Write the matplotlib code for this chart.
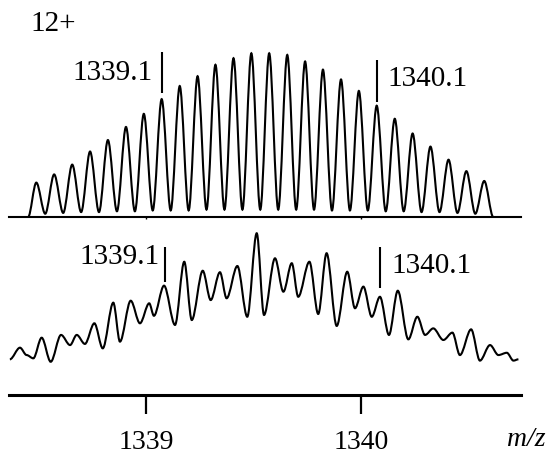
import matplotlib
matplotlib.use("Agg")
import matplotlib.pyplot as plt
from matplotlib.path import Path
from matplotlib.patches import PathPatch

plt.rcParams["font.family"] = ["Liberation Serif", "DejaVu Serif"]

# ─── DATA ────────────────────────────────────────────────
# simulated 12+ isotope pattern: peak centres (m/z) and relative heights (%)
top_mz = [1338.490, 1338.573, 1338.657, 1338.740, 1338.823, 1338.907, 1338.990,
          1339.073, 1339.157, 1339.240, 1339.323, 1339.407, 1339.490, 1339.573,
          1339.657, 1339.740, 1339.823, 1339.907, 1339.990, 1340.073, 1340.157,
          1340.240, 1340.323, 1340.407, 1340.490, 1340.573]
top_int = [21, 26, 32, 40, 47, 55, 63, 72, 80, 86, 93, 97, 100,
           100, 99, 95, 90, 84, 77, 68, 60, 51, 43, 35, 28, 22]
top_valley = [2, 2.5, 3, 3, 3.5, 3.5, 4, 4, 4, 4.5, 4.5, 4.5, 4.5,
              4.5, 4.5, 4.5, 4, 4, 4, 3.5, 3.5, 3, 3, 2.5, 2]
top_start, top_end = 1338.452, 1340.615

# measured spectrum: successive maxima / minima (m/z, relative intensity %)
exp_mz = [1338.367, 1338.414, 1338.445, 1338.476, 1338.515, 1338.557, 1338.605,
          1338.647, 1338.678, 1338.716, 1338.760, 1338.799, 1338.848, 1338.879,
          1338.929, 1338.972, 1339.015, 1339.037, 1339.084, 1339.135, 1339.178,
          1339.213, 1339.264, 1339.301, 1339.344, 1339.375, 1339.425, 1339.471,
          1339.515, 1339.549, 1339.600, 1339.639, 1339.678, 1339.708, 1339.760,
          1339.801, 1339.840, 1339.887, 1339.936, 1339.972, 1340.011, 1340.050,
          1340.088, 1340.130, 1340.171, 1340.220, 1340.262, 1340.298, 1340.336,
          1340.383, 1340.425, 1340.460, 1340.512, 1340.553, 1340.600, 1340.639,
          1340.678, 1340.709, 1340.732]
exp_int = [21.8, 28.9, 24.4, 22.4, 35.0, 20.3, 36.7, 30.5, 36.7, 31.2, 43.8,
           28.5, 56.4, 32.6, 57.6, 43.8, 56.0, 48.4, 66.8, 42.8, 81.4, 45.8,
           75.9, 58.0, 75.0, 59.1, 78.8, 47.8, 98.8, 48.9, 83.5, 63.1, 80.5,
           60.0, 81.4, 49.5, 86.6, 42.2, 75.3, 53.0, 66.2, 47.8, 60.0, 36.7,
           63.7, 34.0, 47.8, 36.7, 40.7, 33.6, 38.1, 24.4, 40.1, 21.0, 30.5,
           24.4, 25.8, 21.0, 21.8]

tick_vals = [1339, 1340]
tick_labels = ["1339", "1340"]
mark_labels = ["1339.1", "1340.1"]
top_marks = [1339.073, 1340.073]
exp_marks = [1339.088, 1340.088]

XLIM = (1338.363, 1340.744)
SCALE = 1.637  # px per % intensity


def smooth_path(xs, ys):
    # cubic segments with flat tangents at every extremum
    verts = [(xs[0], ys[0])]
    codes = [Path.MOVETO]
    for i in range(len(xs) - 1):
        dx = xs[i + 1] - xs[i]
        verts += [(xs[i] + dx / 3, ys[i]), (xs[i + 1] - dx / 3, ys[i + 1]),
                  (xs[i + 1], ys[i + 1])]
        codes += [Path.CURVE4] * 3
    return Path(verts, codes)


W, H = 551, 457
fig = plt.figure(figsize=(W / 100, H / 100), dpi=100)

# top axes: baseline at y=217 px, bottom axes: baseline at y=395 px
ax1 = fig.add_axes([9 / W, (H - 217) / H, 512 / W, 217 / H])
ax2 = fig.add_axes([9 / W, (H - 395) / H, 512 / W, 170 / H])
ax1.set_ylim(0, 217 / SCALE)
ax2.set_ylim(0, 170 / SCALE)

for ax in (ax1, ax2):
    ax.set_xlim(*XLIM)
    ax.patch.set_alpha(0)
    for s in ("top", "left", "right"):
        ax.spines[s].set_visible(False)
    ax.set_yticks([])
    ax.set_xticks(tick_vals)
    ax.set_xticklabels(tick_labels)

# top trace
xs, ys = [top_start], [0]
for i, (m, h) in enumerate(zip(top_mz, top_int)):
    xs.append(m); ys.append(h)
    if i < len(top_valley):
        xs.append((m + top_mz[i + 1]) / 2); ys.append(top_valley[i])
xs.append(top_end); ys.append(0)
ax1.add_patch(PathPatch(smooth_path(xs, ys), fill=False, lw=1.5, ec="black"))

ax2.add_patch(PathPatch(smooth_path(exp_mz, exp_int), fill=False, lw=1.5, ec="black"))

# marker lines + labels
ax1.vlines(top_marks[0], 75.6, 101, color="black", lw=1.5)
ax1.vlines(top_marks[1], 70.4, 95.9, color="black", lw=1.5)
ax2.vlines(exp_marks[0], 69.2, 90.6, color="black", lw=1.5)
ax2.vlines(exp_marks[1], 65.2, 90.6, color="black", lw=1.5)
ax1.text(1339.030, 88, mark_labels[0], ha="right", va="center", fontsize=21)
ax1.text(1340.125, 84, mark_labels[1], ha="left", va="center", fontsize=21)
ax2.text(1339.062, 84, mark_labels[0], ha="right", va="center", fontsize=21)
ax2.text(1340.142, 79, mark_labels[1], ha="left", va="center", fontsize=21)

ax1.spines["bottom"].set_linewidth(1.5)
ax1.tick_params(axis="x", length=1.5, width=1, labelbottom=False)
ax2.spines["bottom"].set_linewidth(2.2)
ax2.tick_params(axis="x", direction="out", length=14, width=1.6, pad=11,
                labelsize=20)

fig.text(30 / W, 1 - 24 / H, "12+", ha="left", va="center", fontsize=21)
fig.text(545 / W, 1 - 440 / H, "m/z", ha="right", va="center", fontsize=20,
         style="italic")

fig.savefig("out.png", dpi=100)
plt.close()
